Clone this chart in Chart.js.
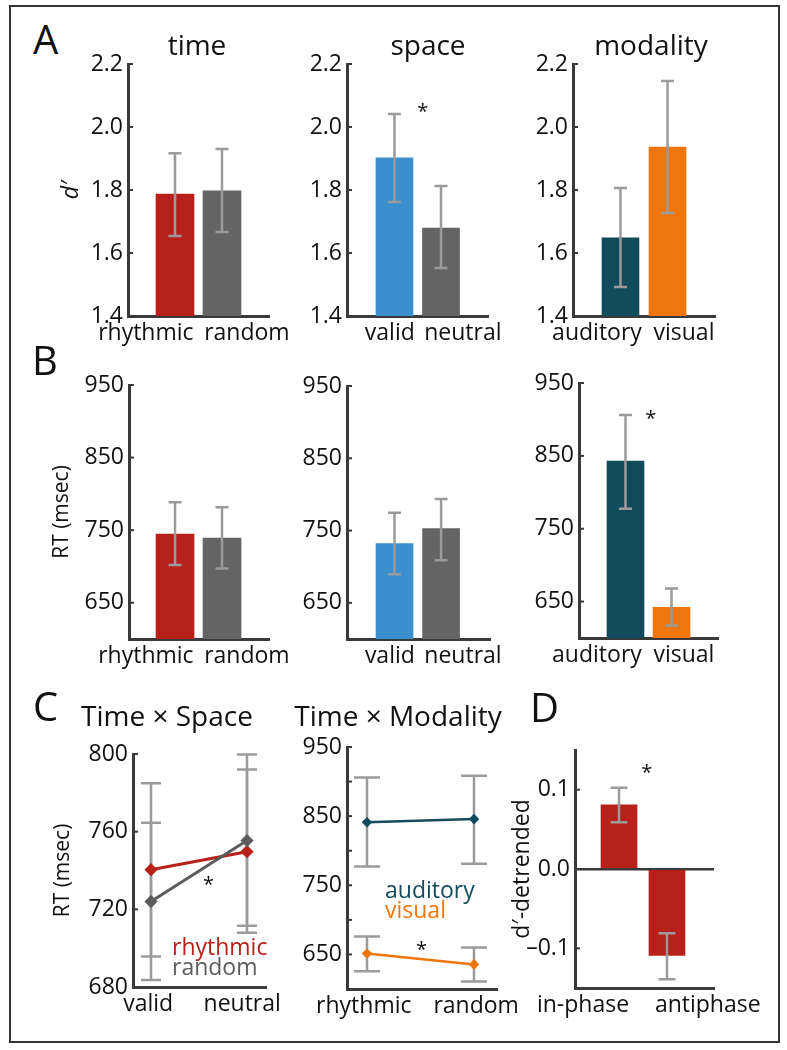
<!DOCTYPE html>
<html>
<head>
<meta charset="utf-8">
<script src="https://cdn.jsdelivr.net/npm/chart.js@4.4.1/dist/chart.umd.min.js"></script>
<style>
  body { margin: 0; background: #fff; }
  #page { position: relative; width: 787px; height: 1050px; font-family: "Open Sans", sans-serif; }
  #frame { position: absolute; left: 9px; top: 5px; width: 767px; height: 1034px; border: 2px solid #333; }
  canvas { position: absolute; }
  .t { position: absolute; line-height: 1; white-space: nowrap; color: #111; }
</style>
</head>
<body>
<div id="page"><div id="frame"></div></div>
<script>
// categories
const timeCats = ["rhythmic", "random"];
const spaceCats = ["valid", "neutral"];
const modCats = ["auditory", "visual"];
const phaseCats = ["in-phase", "antiphase"];

// A: d' (mean, lower / upper error)
const dTime = [1.787, 1.797];
const dTimeLo = [1.654, 1.667];
const dTimeHi = [1.917, 1.930];
const dSpace = [1.902, 1.679];
const dSpaceLo = [1.762, 1.552];
const dSpaceHi = [2.041, 1.813];
const dMod = [1.648, 1.936];
const dModLo = [1.492, 1.727];
const dModHi = [1.806, 2.146];

// B: RT (msec)
const rtTime = [744.5, 739];
const rtTimeLo = [701.8, 697];
const rtTimeHi = [788.5, 781.6];
const rtSpace = [732, 752.7];
const rtSpaceLo = [689.5, 709];
const rtSpaceHi = [774.8, 793.6];
const rtMod = [843, 642];
const rtModLo = [777.5, 617];
const rtModHi = [906, 668];

// C: interactions
const tsRhythmic = [740.4, 749.7];
const tsRhythmicLo = [695.7, 708];
const tsRhythmicHi = [785, 792];
const tsRandom = [724, 755.4];
const tsRandomLo = [683.6, 711.5];
const tsRandomHi = [764.6, 799.7];
const tmAuditory = [841.3, 845.7];
const tmAuditoryLo = [777, 781];
const tmAuditoryHi = [906, 908.6];
const tmVisual = [651.4, 635.6];
const tmVisualLo = [625.6, 611];
const tmVisualHi = [676, 660];

// D: d'-detrended
const detr = [0.081, -0.109];
const detrLo = [0.059, -0.139];
const detrHi = [0.1025, -0.081];

// tick labels
const dTicks = [1.4, 1.6, 1.8, 2.0, 2.2];
const rtTicks = [650, 750, 850, 950];
const tsTicks = [680, 720, 760, 800];
const tmTicks = [650, 700, 750, 800, 850, 900, 950];
const detrTicks = [-0.1, 0, 0.1];

// significance stars (x index, y value)
const starsSpace = [[0.61, 2.063]];
const starsModRT = [[0.55, 907]];
const starsTS = [[0.6, 735]];
const starsTM = [[0.51, 664]];
const starsPhase = [[0.58, 0.127]];

const RED = "#b8211b", GRAY = "#646464", BLUE = "#3a8fcc", TEAL = "#124b5c", ORANGE = "#ee760a";
const ERR = "#9b9b9b", AXIS = "#3a3a3a", INK = "#111";
const FONT = "'Open Sans', sans-serif";
const page = document.getElementById("page");

function text(str, x, baseline, size, opts = {}) {
  const d = document.createElement("div");
  d.className = "t";
  d.textContent = str;
  d.style.fontSize = size + "px";
  d.style.top = (baseline - 0.888 * size) + "px";
  d.style.left = x + "px";
  if (opts.center) d.style.transform = "translateX(-50%)";
  if (opts.color) d.style.color = opts.color;
  page.appendChild(d);
}

const toXY = vals => vals.map((v, i) => ({ x: i, y: v }));

// error bars read from dataset.errLo / errHi through the y scale
function drawErr(chart, o) {
  const ctx = chart.ctx, ys = chart.scales.y;
  chart.data.datasets.forEach((ds, di) => {
    if (!ds.errLo) return;
    chart.getDatasetMeta(di).data.forEach((el, i) => {
      const y1 = ys.getPixelForValue(ds.errLo[i]);
      const y2 = ys.getPixelForValue(ds.errHi[i]);
      ctx.save();
      ctx.strokeStyle = ERR;
      ctx.lineWidth = o.width || 2.5;
      ctx.beginPath();
      ctx.moveTo(el.x, y1); ctx.lineTo(el.x, y2);
      ctx.moveTo(el.x - o.cap / 2, y1); ctx.lineTo(el.x + o.cap / 2, y1);
      ctx.moveTo(el.x - o.cap / 2, y2); ctx.lineTo(el.x + o.cap / 2, y2);
      ctx.stroke();
      ctx.restore();
    });
  });
}
const errorBars = {
  id: "errorBars",
  beforeDatasetsDraw(chart, args, o) { if (o.under) drawErr(chart, o); },
  afterDatasetsDraw(chart, args, o) { if (!o.under) drawErr(chart, o); }
};

// small inward tick marks on the y axis
const inTicks = {
  id: "inTicks",
  afterDraw(chart) {
    const ctx = chart.ctx, ys = chart.scales.y, left = chart.chartArea.left;
    ctx.save();
    ctx.strokeStyle = AXIS;
    ctx.lineWidth = 2;
    ys.ticks.forEach(t => {
      const y = ys.getPixelForValue(t.value);
      ctx.beginPath(); ctx.moveTo(left, y); ctx.lineTo(left + 5, y); ctx.stroke();
    });
    ctx.restore();
  }
};

const stars = {
  id: "stars",
  afterDraw(chart, args, o) {
    if (!o.points) return;
    const ctx = chart.ctx;
    ctx.save();
    ctx.fillStyle = INK;
    ctx.font = "20px " + FONT;
    ctx.textAlign = "center";
    ctx.textBaseline = "alphabetic";
    o.points.forEach(([xv, yv]) => {
      ctx.fillText("*", chart.scales.x.getPixelForValue(xv), chart.scales.y.getPixelForValue(yv) + 11);
    });
    ctx.restore();
  }
};

function xScale(min, max, pos, cats) {
  return {
    type: "linear", min, max, offset: false,
    afterBuildTicks: s => { s.ticks = pos.map(v => ({ value: v })); },
    ticks: { callback: (v, i) => cats[i], autoSkip: false, maxRotation: 0, padding: 4,
             font: { family: FONT, size: 23 }, color: INK },
    grid: { display: false, drawTicks: false },
    border: { color: AXIS, width: 3 }
  };
}

function yScale(min, max, ticks, fmt, title) {
  return {
    type: "linear", min, max,
    afterBuildTicks: s => { s.ticks = ticks.map(v => ({ value: v })); },
    ticks: { callback: fmt, autoSkip: false, padding: 5, font: { family: FONT, size: 23 }, color: INK },
    grid: { display: false, drawTicks: false },
    border: { color: AXIS, width: 3 },
    title: title
      ? { display: true, text: title.text, color: INK, padding: 0,
          font: { family: FONT, size: title.size, style: title.italic ? "italic" : "normal", lineHeight: 1 } }
      : { display: false }
  };
}

function makeChart(box, cfg) {
  const W = box.W || 60, padTop = 20, padRight = box.padR || 40, H = 50;
  const c = document.createElement("canvas");
  c.width = box.R - box.L + W + padRight;
  c.height = box.B - box.T + padTop + H;
  c.style.left = (box.L - W) + "px";
  c.style.top = (box.T - padTop) + "px";
  page.appendChild(c);
  const o = cfg.options;
  o.responsive = false;
  o.animation = false;
  o.events = [];
  o.layout = { padding: { top: padTop, right: padRight, left: 0, bottom: 0 } };
  o.scales.x.afterFit = s => { s.height = H; };
  o.scales.y.afterFit = s => { s.width = W; };
  o.plugins = Object.assign({ legend: { display: false }, tooltip: { enabled: false } }, o.plugins);
  cfg.plugins = [errorBars, inTicks, stars];
  return new Chart(c, cfg);
}

const f1 = v => v.toFixed(1);
const fInt = v => String(v);

function barSet(vals, lo, hi, colors, thick) {
  return { data: toXY(vals), backgroundColor: colors, barThickness: thick, errLo: lo, errHi: hi };
}

// ---- row A ----
makeChart({ L: 128, T: 64, R: 269, B: 316, W: 68 }, {
  type: "bar",
  data: { datasets: [barSet(dTime, dTimeLo, dTimeHi, [RED, GRAY], 38)] },
  options: {
    scales: { x: xScale(-1, 2, [-0.62, 1.53], timeCats),
              y: yScale(1.4, 2.2, dTicks, f1, { text: "d\u2032", size: 23, italic: true }) },
    plugins: { errorBars: { cap: 13 } }
  }
});
makeChart({ L: 347, T: 64, R: 488, B: 316 }, {
  type: "bar",
  data: { datasets: [barSet(dSpace, dSpaceLo, dSpaceHi, [BLUE, GRAY], 37)] },
  options: {
    scales: { x: xScale(-1.02, 2.01, [-0.1, 1.47], spaceCats), y: yScale(1.4, 2.2, dTicks, f1) },
    plugins: { errorBars: { cap: 13 }, stars: { points: starsSpace } }
  }
});
makeChart({ L: 573, T: 64, R: 715, B: 316 }, {
  type: "bar",
  data: { datasets: [barSet(dMod, dModLo, dModHi, [TEAL, ORANGE], 37)] },
  options: {
    scales: { x: xScale(-1.01, 2.01, [-0.5, 1.35], modCats), y: yScale(1.4, 2.2, dTicks, f1) },
    plugins: { errorBars: { cap: 13 } }
  }
});

// ---- row B ----
makeChart({ L: 129, T: 385, R: 269, B: 639, W: 77 }, {
  type: "bar",
  data: { datasets: [barSet(rtTime, rtTimeLo, rtTimeHi, [RED, GRAY], 38)] },
  options: {
    scales: { x: xScale(-0.98, 2.0, [-0.62, 1.53], timeCats),
              y: yScale(600, 950, rtTicks, fInt, { text: "RT (msec)", size: 21 }) },
    plugins: { errorBars: { cap: 13 } }
  }
});
makeChart({ L: 347, T: 386, R: 490, B: 639 }, {
  type: "bar",
  data: { datasets: [barSet(rtSpace, rtSpaceLo, rtSpaceHi, [BLUE, GRAY], 37)] },
  options: {
    scales: { x: xScale(-1.02, 2.05, [-0.1, 1.47], spaceCats), y: yScale(600, 950, rtTicks, fInt) },
    plugins: { errorBars: { cap: 13 } }
  }
});
makeChart({ L: 579, T: 383, R: 718, B: 638 }, {
  type: "bar",
  data: { datasets: [barSet(rtMod, rtModLo, rtModHi, [TEAL, ORANGE], 37)] },
  options: {
    scales: { x: xScale(-1.01, 2.01, [-0.62, 1.27], modCats), y: yScale(600, 950, rtTicks, fInt) },
    plugins: { errorBars: { cap: 13 }, stars: { points: starsModRT } }
  }
});

// ---- row C ----
function lineSet(vals, lo, hi, color, width, r) {
  return { data: toXY(vals), borderColor: color, backgroundColor: color, borderWidth: width,
           pointStyle: "rectRot", pointRadius: r, tension: 0, errLo: lo, errHi: hi };
}
makeChart({ L: 133, T: 754, R: 266, B: 987, W: 80 }, {
  type: "line",
  data: { datasets: [
    lineSet(tsRandom, tsRandomLo, tsRandomHi, "#5c5c5c", 3, 4.5),
    lineSet(tsRhythmic, tsRhythmicLo, tsRhythmicHi, RED, 3, 4.5)
  ] },
  options: {
    scales: { x: xScale(-0.1875, 1.198, [-0.03, 0.95], spaceCats),
              y: yScale(680, 800, tsTicks, fInt, { text: "RT (msec)", size: 21 }) },
    plugins: { errorBars: { cap: 20, under: true }, stars: { points: starsTS } }
  }
});
makeChart({ L: 347, T: 747, R: 497, B: 989 }, {
  type: "line",
  data: { datasets: [
    lineSet(tmAuditory, tmAuditoryLo, tmAuditoryHi, TEAL, 2.5, 3.5),
    lineSet(tmVisual, tmVisualLo, tmVisualHi, ORANGE, 2.5, 3.5)
  ] },
  options: {
    scales: { x: xScale(-0.187, 1.215, [-0.03, 1.02], timeCats),
              y: yScale(600, 950, tmTicks, v => (v % 100 === 50 ? String(v) : "")) },
    plugins: { errorBars: { cap: 26, under: true }, stars: { points: starsTM } }
  }
});

// ---- D ----
const dY = yScale(-0.15, 0.15, detrTicks, v => (v < 0 ? "\u2013" + Math.abs(v).toFixed(1) : v.toFixed(1)),
                  { text: "d\u2032-detrended", size: 23 });
dY.grid = { display: true, drawTicks: false, lineWidth: 2.5,
            color: c => (c.tick && c.tick.value === 0 ? AXIS : "rgba(0,0,0,0)") };
makeChart({ L: 575, T: 750, R: 714, B: 988, W: 64, padR: 60 }, {
  type: "bar",
  data: { datasets: [barSet(detr, detrLo, detrHi, [RED, RED], 36)] },
  options: {
    scales: { x: xScale(-0.917, 1.98, [-0.75, 1.85], phaseCats), y: dY },
    plugins: { errorBars: { cap: 17 }, stars: { points: starsPhase } }
  }
});

// panel letters, titles, inline legends
text("A", 33, 55, 40);
text("time", 197, 55, 28, { center: true });
text("space", 428, 55, 28, { center: true });
text("modality", 651, 55, 28, { center: true });
text("B", 32, 376, 40);
text("C", 33, 722, 40);
text("Time \u00d7 Space", 167, 726, 28, { center: true });
text("Time \u00d7 Modality", 398, 726, 28, { center: true });
text("D", 530, 723, 40);
text("rhythmic", 172, 955, 23, { color: RED });
text("random", 172, 975, 23, { color: "#5c5c5c" });
text("auditory", 385, 898, 23, { color: TEAL });
text("visual", 385, 918, 23, { color: ORANGE });
</script>
</body>
</html>
